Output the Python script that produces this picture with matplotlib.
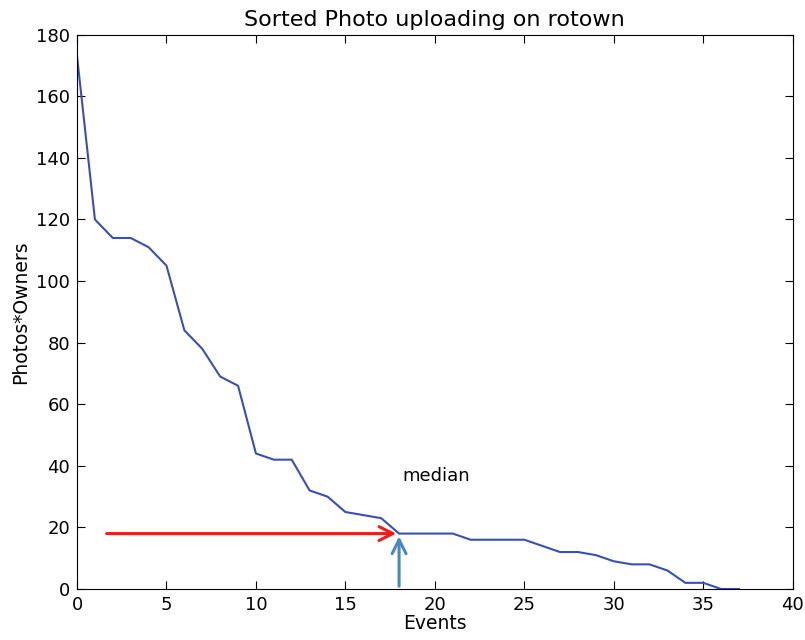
import matplotlib
matplotlib.use('Agg')
import matplotlib.pyplot as plt

# sorted photos*owners per event
events = list(range(38))
values = [173, 120, 114, 114, 111, 105, 84, 78, 69, 66,
          44, 42, 42, 32, 30, 25, 24, 23, 18, 18,
          18, 18, 16, 16, 16, 16, 14, 12, 12, 11,
          9, 8, 8, 6, 2, 2, 0, 0]
median_x = 18
median_y = 18
arrow_start_x = 1.5

fig = plt.figure(figsize=(8.05, 6.4), dpi=100)
ax = fig.add_axes([0.0957, 0.0797, 0.889, 0.866])

ax.plot(events, values, color='#3a50b0', lw=1.5)

# median arrows
ax.annotate('', xy=(median_x, median_y), xytext=(arrow_start_x, median_y),
            arrowprops=dict(arrowstyle='->', color='#ee1c1c', lw=2.2, mutation_scale=25))
ax.annotate('', xy=(median_x, median_y), xytext=(median_x, 0),
            arrowprops=dict(arrowstyle='->', color='#4a86c0', lw=2.2, mutation_scale=25))
ax.text(median_x + 0.2, 35, 'median', fontsize=13)

ax.set_xlim(0, 40)
ax.set_ylim(0, 180)
ax.tick_params(direction='in', top=True, right=True, labelsize=13, length=6, pad=5)
ax.set_xlabel('Events', fontsize=13.5, labelpad=0)
ax.set_ylabel('Photos*Owners', fontsize=13.5, labelpad=4)
ax.set_title('Sorted Photo uploading on rotown', fontsize=16, pad=6)

fig.savefig('out.png')
